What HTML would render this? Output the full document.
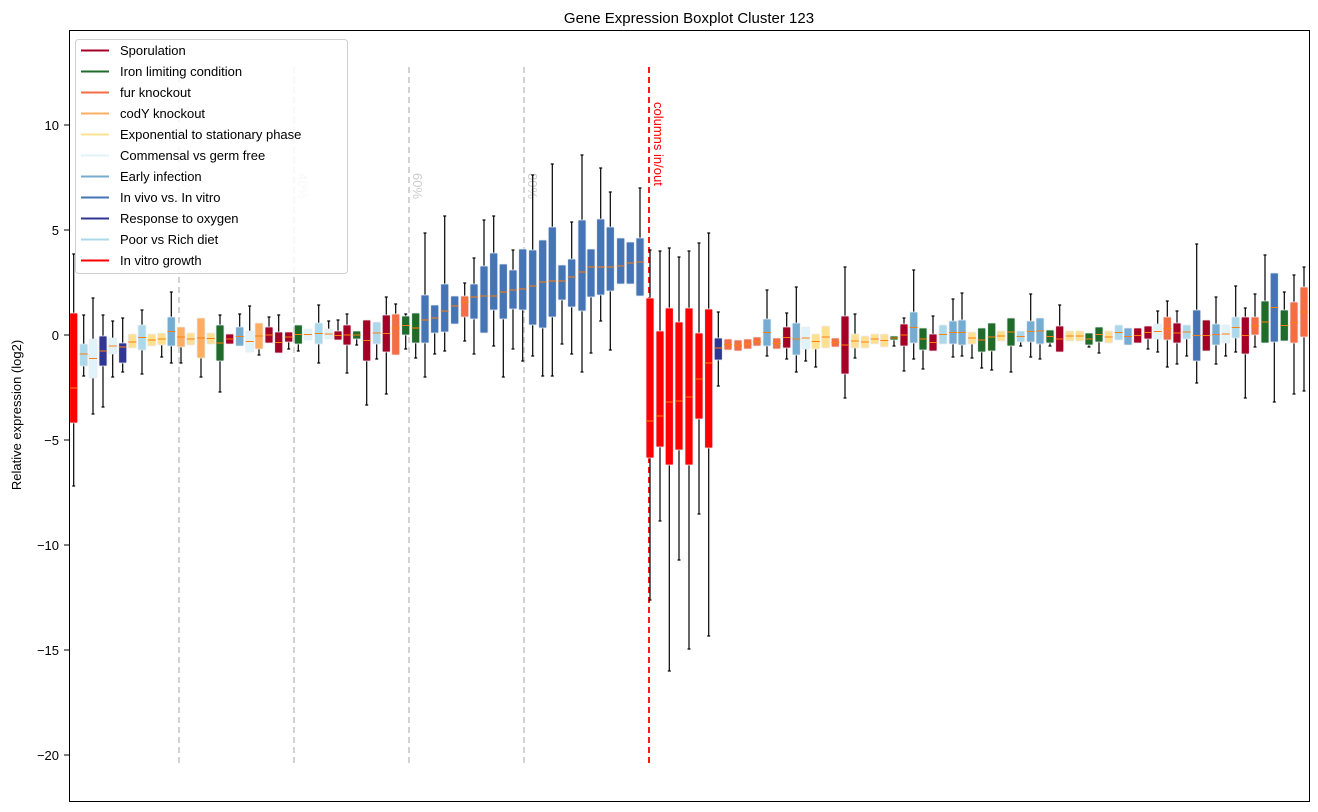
<!DOCTYPE html>
<html><head><meta charset="utf-8"><style>
body{margin:0;background:#fff;}
svg{display:block;font-family:"Liberation Sans","DejaVu Sans",sans-serif;}
</style></head><body>
<svg id="s" width="1318" height="812" xmlns="http://www.w3.org/2000/svg">
<rect x="0" y="0" width="1318" height="812" fill="#fff"/>
<text x="689" y="23" font-size="15" text-anchor="middle">Gene Expression Boxplot Cluster 123</text>
<g id="grid"></g>
<g id="boxes"></g>
<rect x="69.5" y="30.5" width="1240" height="771" fill="none" stroke="#000" stroke-width="1"/>
<g font-size="13" text-anchor="end">
<line x1="64" x2="69" y1="125" y2="125" stroke="#000"/><text x="59" y="130">10</text>
<line x1="64" x2="69" y1="230" y2="230" stroke="#000"/><text x="59" y="235">5</text>
<line x1="64" x2="69" y1="335" y2="335" stroke="#000"/><text x="59" y="340">0</text>
<line x1="64" x2="69" y1="440" y2="440" stroke="#000"/><text x="59" y="445">−5</text>
<line x1="64" x2="69" y1="545" y2="545" stroke="#000"/><text x="59" y="550">−10</text>
<line x1="64" x2="69" y1="650" y2="650" stroke="#000"/><text x="59" y="655">−15</text>
<line x1="64" x2="69" y1="755" y2="755" stroke="#000"/><text x="59" y="760">−20</text>
</g>
<text transform="translate(21,415) rotate(-90)" font-size="13" text-anchor="middle">Relative expression (log2)</text>
<g id="legend"></g>
</svg>
<script>
var C={R:"#a50026",G:"#1e6b2a",T:"#f46d43",O:"#fdae61",Y:"#fee090",V:"#e0f3f8",M:"#74add1",B:"#4575b4",N:"#313695",L:"#abd9e9",X:"#ff0000"};
var D=[
[73.7,"X",313,423,254,486,388],[83.7,"L",344,366,315,376,354],[93,"V",339,378,298,414,null],[103,"N",336,366,315,407,null],[112.7,"V",338,354,321,377,null],[122.7,"N",343,363,318,372,347],[132.3,"Y",334,348,0,0,342],[142,"L",325,350,310,374,null],[151.7,"Y",334,346,0,0,null],[161.7,"Y",333,345,0,357,null],[171.3,"M",317,346,292,363,null],[181,"O",327,347,0,363,null],[190.7,"Y",333,345,0,0,null],[201,"O",318,358,0,377,null],[210.7,"Y",333,344,0,0,null],[220,"G",325,361,315,392,null],[229.7,"R",334,344,0,0,null],[239.7,"M",327,346,314,0,null],[249.7,"V",331,352,306,0,null],[259,"O",323,349,0,355,null],[269,"R",327,343,317,0,null],[278.7,"R",332,353,315,0,null],[288.7,"R",332,342,0,349,null],[298.3,"G",325,344,0,351,null],[308,"V",329,340,0,0,null],[318.7,"L",323,344,305,363,null],[328.7,"V",329,339,321,0,null],[338,"R",331,340,320,0,null],[347,"R",325,345,314,373,null],[356.7,"G",331,339,0,345,null],[366.7,"R",320,361,0,405,null],[376.7,"L",322,344,0,359,null],[386.3,"R",315,352,297,394,null],
[395.7,"T",314,355,304,0,328],[405.7,"G",316,335,314,349,null],[415.7,"G",313,343,0,358,null],[425,"B",295,343,233,377,320],[434.7,"B",305,333,0,354,318],[444.7,"B",284,332,216,351,311],[454.7,"B",296,324,0,0,306],[464.7,"T",296,317,283,341,302],[474,"B",284,319,258,354,297],[484,"B",266,333,220,0,296],[493.7,"B",253,310,216,346,296],[503.3,"B",264,319,0,377,292],[513,"B",270,309,250,349,290],[522.7,"B",249,310,0,361,289],[532.7,"B",250,325,175,356,286],[542.7,"B",240,328,0,376,282],[552.3,"B",227,317,164,376,281],[562,"B",265,300,0,344,281],[571.7,"B",259,307,222,354,277],[582,"B",220,311,155,372,272],[591,"B",249,297,0,353,267],[600.7,"B",219,295,168,321,267],[610.3,"B",227,291,192,350,267],[620.7,"B",238,284,0,0,266],[630.3,"B",242,284,0,0,263],[640,"B",238,296,188,0,262],
[650,"X",298,458,250,600,421],[660,"X",331,447,251,521,416],[669.3,"X",308,465,248,671,402],[679,"X",322,450,257,560,401],[689,"X",308,465,251,649,397],[699,"X",333,419,243,514,379],[708.7,"X",309,448,233,636,363],[718.3,"N",338,360,312,386,348],[728,"T",339,350,0,0,null],[738,"T",340,351,0,0,null],[747.7,"T",339,349,0,0,null],[757,"T",337,346,0,0,null],[767,"M",319,346,290,356,null],[776.7,"T",338,349,0,0,null],[786.7,"R",327,348,313,359,null],[796.3,"M",323,355,287,372,null],[805.7,"V",327,349,0,361,null],[815.7,"Y",334,349,0,367,null],[825.7,"Y",326,348,0,0,null],[835.3,"T",338,347,0,0,null],[845,"R",316,374,267,398,null],[855,"Y",334,348,314,358,null],[865,"Y",336,348,0,0,null],[874.7,"Y",334,344,0,0,null],[884.3,"Y",334,347,0,0,null],[894,"G",336,340,0,346,null],[904,"R",324,346,318,371,null],[913.7,"M",312,343,270,359,null],[923,"G",328,350,0,369,null],[933,"R",334,351,316,0,null],[943,"L",325,344,0,0,null],[953,"M",321,344,299,357,null],[962,"M",320,345,293,356,null],[972,"Y",332,344,0,358,null],
[981.7,"G",328,352,0,368,null],[991.7,"G",323,351,0,370,null],[1001,"Y",331,341,0,0,null],[1011,"G",318,346,0,372,null],[1020.7,"L",331,342,0,346,null],[1030.7,"M",321,342,294,357,null],[1040,"M",318,344,0,359,null],[1050,"G",330,343,0,346,null],[1059.7,"R",326,352,305,0,null],[1069.7,"Y",331,341,0,0,null],[1079.7,"Y",331,341,0,0,null],[1089,"G",333,345,0,347,null],[1099,"G",327,342,0,353,null],[1108.7,"Y",331,343,0,0,null],[1118.7,"L",325,340,0,0,null],[1128,"M",328,345,0,0,null],[1137.7,"R",328,343,0,0,null],[1148,"R",326,339,0,349,null],[1157.7,"V",324,339,311,352,null],[1167.3,"T",317,340,301,367,null],[1177,"R",323,343,311,364,null],[1186.7,"L",325,339,0,356,null],[1196.7,"B",310,361,244,383,null],[1206.3,"R",320,351,0,0,null],[1216,"M",324,345,297,364,null],[1225.7,"V",325,343,0,356,null],[1235.7,"L",317,338,286,352,null],[1245.3,"R",317,354,308,398,null],[1255,"T",317,335,294,347,null],[1265,"G",301,343,255,0,null],[1274.3,"B",273,342,0,402,null],[1284.3,"G",310,341,292,0,null],[1294,"T",302,343,275,394,null],[1304,"T",287,337,267,391,null]
];
var NS="http://www.w3.org/2000/svg";
function el(p,t,a,txt){var e=document.createElementNS(NS,t);for(var k in a)e.setAttribute(k,a[k]);if(txt)e.textContent=txt;p.appendChild(e);return e;}
var g=document.getElementById("grid");
[179,294,409,524].forEach(function(x,i){
el(g,"line",{x1:x,x2:x,y1:67,y2:767,stroke:"#c8c8c8","stroke-width":1.6,"stroke-dasharray":"6,4"});
el(g,"text",{transform:"translate("+(x+4)+",173) rotate(90)","font-size":13,fill:"#cccccc"},((i+1)*20)+"%");
});
el(g,"line",{x1:649,x2:649,y1:67,y2:767,stroke:"#ff0000","stroke-width":1.8,"stroke-dasharray":"6,4"});
el(g,"text",{transform:"translate(654,102) rotate(90)","font-size":13,fill:"#ff0000"},"columns in/out");
var b=document.getElementById("boxes");
D.forEach(function(d){
var x=d[0],c=C[d[1]],t=d[2],bo=d[3],wt=d[4]||t,wb=d[5]||bo,m=d[6]==null?(t+bo)/2:d[6];
if(wt<t){el(b,"line",{x1:x,x2:x,y1:wt,y2:t,stroke:"#000","stroke-width":1.2});el(b,"line",{x1:x-1.5,x2:x+1.5,y1:wt,y2:wt,stroke:"#000","stroke-width":1.2});}
if(wb>bo){el(b,"line",{x1:x,x2:x,y1:bo,y2:wb,stroke:"#000","stroke-width":1.2});el(b,"line",{x1:x-1.5,x2:x+1.5,y1:wb,y2:wb,stroke:"#000","stroke-width":1.2});}
el(b,"rect",{x:x-4,y:t,width:8,height:Math.max(bo-t,2),fill:c,stroke:"#e8ecf4","stroke-width":0.8,rx:1});
el(b,"line",{x1:x-4,x2:x+4,y1:m,y2:m,stroke:"#ff7f0e","stroke-width":1});
});
var L=document.getElementById("legend");
el(L,"rect",{x:75.5,y:39.5,width:272,height:234,rx:3,fill:"#fff","fill-opacity":0.85,stroke:"#d0d0d0"});
var names=[["Sporulation","#a50026"],["Iron limiting condition","#1e6b2a"],["fur knockout","#f46d43"],["codY knockout","#fdae61"],["Exponential to stationary phase","#fee090"],["Commensal vs germ free","#e0f3f8"],["Early infection","#74add1"],["In vivo vs. In vitro","#4575b4"],["Response to oxygen","#313695"],["Poor vs Rich diet","#abd9e9"],["In vitro growth","#ff0000"]];
names.forEach(function(n,i){var y=50.5+i*21;
el(L,"line",{x1:81,x2:109,y1:y,y2:y,stroke:n[1],"stroke-width":2});
el(L,"text",{x:120,y:y+4.5,"font-size":13},n[0]);});
</script>
</body></html>
